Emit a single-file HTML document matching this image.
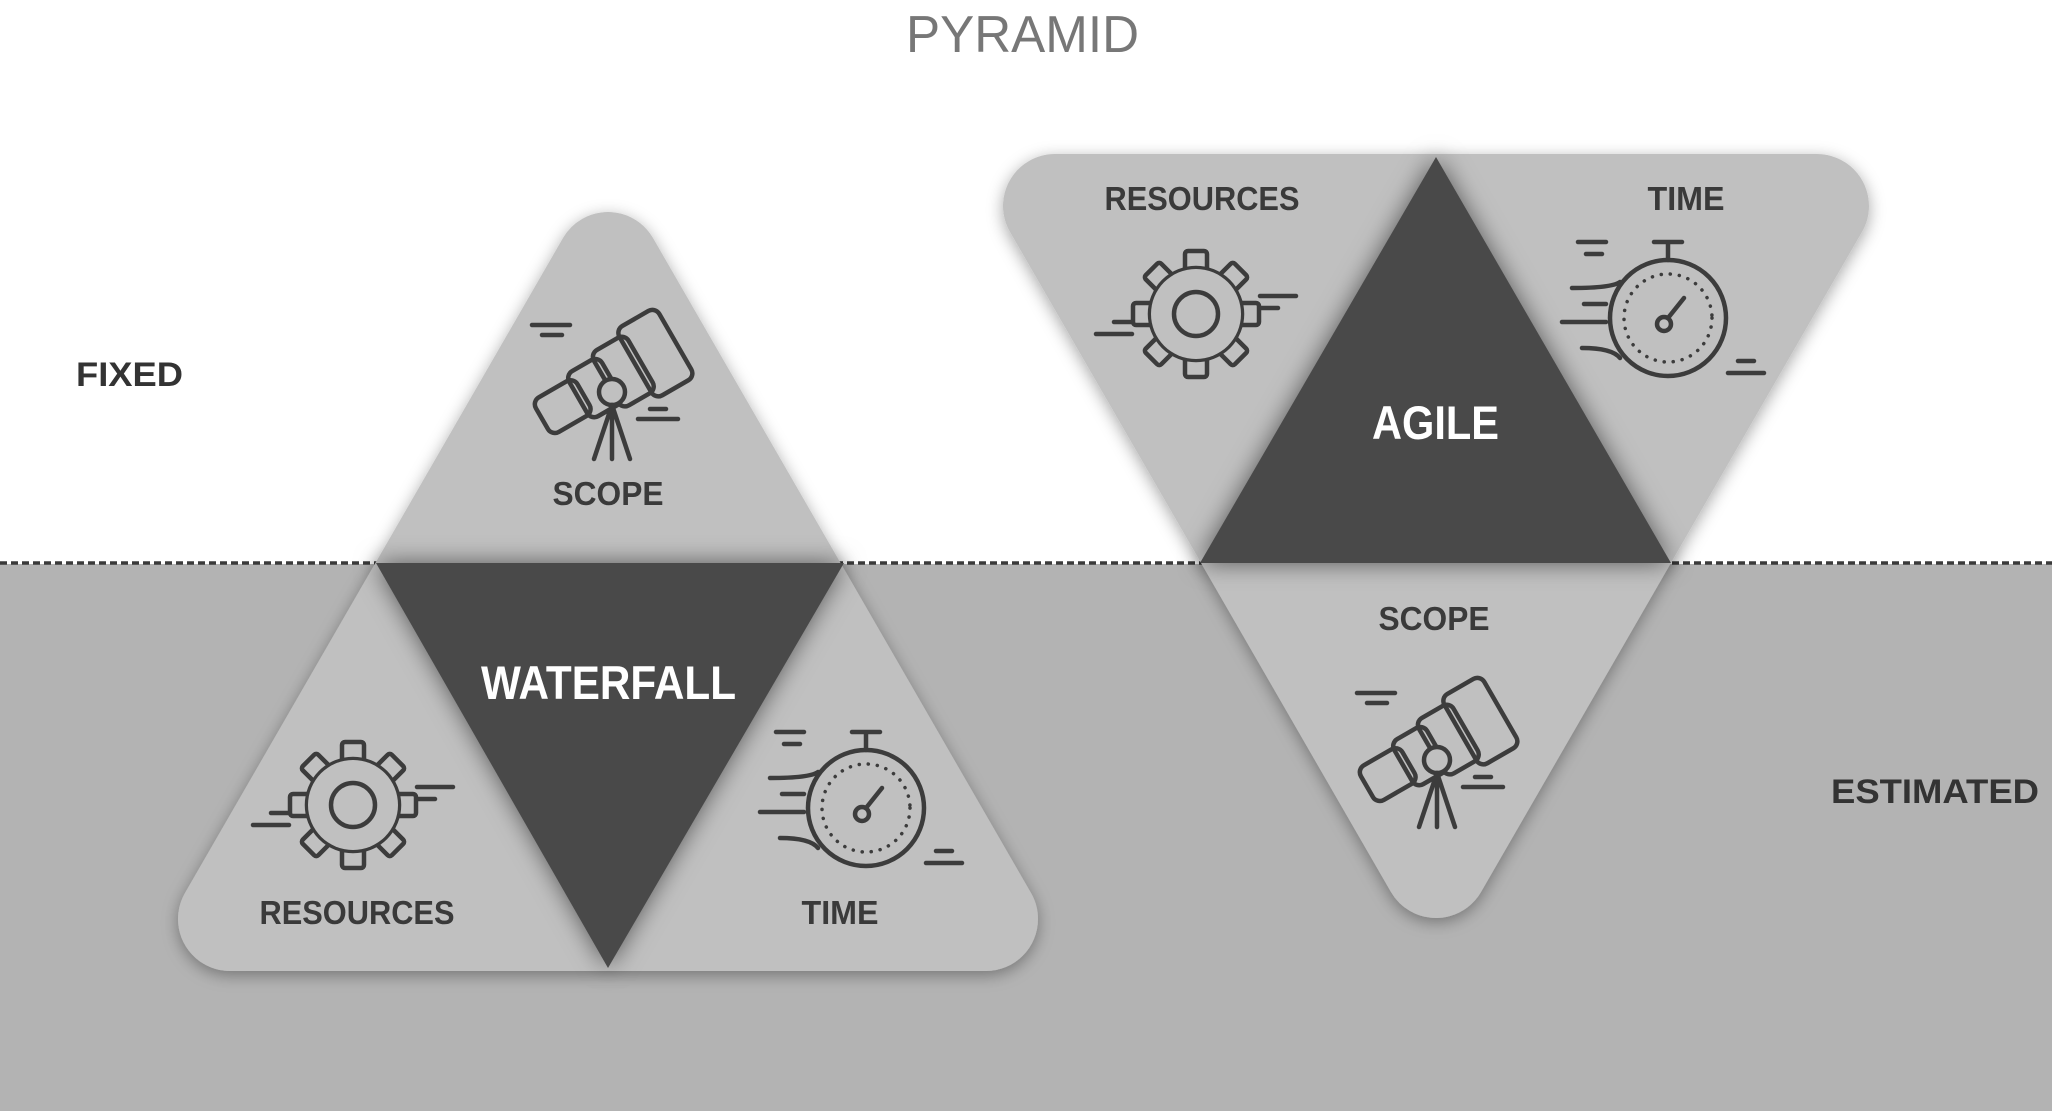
<!DOCTYPE html>
<html><head><meta charset="utf-8"><style>
html,body{margin:0;padding:0;background:#fff;}
svg{display:block;}
text{font-family:"Liberation Sans",sans-serif;}
.lbl{font-weight:bold;font-size:33px;fill:#3a3a3a;text-anchor:middle;}
.ic{fill:none;stroke:#3c3c3c;stroke-width:4.5;stroke-linecap:round;stroke-linejoin:round;}
</style></head><body>
<svg width="2052" height="1114" viewBox="0 0 2052 1114" xmlns="http://www.w3.org/2000/svg">
<defs>
<filter id="sh" x="-20%" y="-20%" width="140%" height="140%"><feDropShadow dx="0" dy="4" stdDeviation="8" flood-color="#000" flood-opacity="0.35"/></filter>
<filter id="sh2" x="-30%" y="-30%" width="160%" height="160%"><feDropShadow dx="0" dy="0" stdDeviation="12" flood-color="#000" flood-opacity="0.55"/></filter>
<g id="gear">
  <g fill="#c0c0c0" stroke="#3c3c3c" stroke-width="4.5" stroke-linejoin="round">
    <rect x="-11" y="-63" width="22" height="26" rx="3"/>
    <rect x="-11" y="-63" width="22" height="26" rx="3" transform="rotate(45)"/>
    <rect x="-11" y="-63" width="22" height="26" rx="3" transform="rotate(90)"/>
    <rect x="-11" y="-63" width="22" height="26" rx="3" transform="rotate(135)"/>
    <rect x="-11" y="-63" width="22" height="26" rx="3" transform="rotate(180)"/>
    <rect x="-11" y="-63" width="22" height="26" rx="3" transform="rotate(225)"/>
    <rect x="-11" y="-63" width="22" height="26" rx="3" transform="rotate(270)"/>
    <rect x="-11" y="-63" width="22" height="26" rx="3" transform="rotate(315)"/>
    <circle r="46"/>
  </g>
  <circle r="45" fill="#c0c0c0"/>
  <circle r="22" class="ic"/>
  <path class="ic" d="M64 -18 H100 M64 -6 H82 M-64 20 H-100 M-64 8 H-82"/>
</g>
<g id="watch">
  <circle r="58" class="ic"/>
  <circle r="44" fill="none" stroke="#3c3c3c" stroke-width="3.5" stroke-dasharray="0.1 9" stroke-linecap="round"/>
  <path class="ic" d="M0 -58 V-76 M-14 -76 H14"/>
  <circle cx="-4" cy="6" r="7" class="ic"/>
  <path class="ic" d="M0 0 L16 -20"/>
  <path class="ic" d="M-90 -76 H-62 M-82 -64 H-66 M-48 -36 Q-56 -30 -96 -30 M-84 -14 H-62 M-106 4 H-62 M-48 40 Q-56 30 -86 30 M60 55 H96 M70 43 H86"/>
</g>
<g id="scope">
  <g class="ic">
    <g transform="rotate(-30) translate(0,-12)">
      <rect x="-74" y="-20" width="48" height="40" rx="8"/>
      <rect x="-32" y="-26" width="38" height="52" rx="8"/>
      <rect x="0" y="-32" width="40" height="64" rx="8"/>
      <rect x="34" y="-40" width="46" height="80" rx="8"/>
    </g>
    <circle r="13" fill="#c0c0c0"/>
    <path d="M0 13 L-18 67 M0 13 V67 M0 13 L18 67 M-80 -67 H-42 M-70 -57 H-50 M26 27 H66 M38 17 H54"/>
  </g>
</g>
</defs>

<rect x="0" y="564" width="2052" height="547" fill="#b3b3b3"/>
<line x1="0" y1="563" x2="2052" y2="563" stroke="#3a3a3a" stroke-width="3.5" stroke-dasharray="7 4"/>

<text x="906" y="52" font-size="52" font-weight="100" fill="#777" textLength="233" lengthAdjust="spacingAndGlyphs">PYRAMID</text>
<text x="76" y="386" font-size="34" font-weight="bold" fill="#333" textLength="107" lengthAdjust="spacingAndGlyphs">FIXED</text>
<text x="1831" y="803" font-size="34" font-weight="bold" fill="#333" textLength="208" lengthAdjust="spacingAndGlyphs">ESTIMATED</text>

<!-- Waterfall -->
<polygon points="608,264 230,919 986,919" fill="#c0c0c0" stroke="#c0c0c0" stroke-width="104" stroke-linejoin="round" filter="url(#sh)"/>
<polygon points="376,563 844,563 608,968" fill="#494949" filter="url(#sh2)"/>
<text x="481" y="699" font-size="47" font-weight="bold" fill="#fff" textLength="255" lengthAdjust="spacingAndGlyphs">WATERFALL</text>
<text class="lbl" x="608" y="505" textLength="111" lengthAdjust="spacingAndGlyphs">SCOPE</text>
<text class="lbl" x="357" y="924" textLength="195" lengthAdjust="spacingAndGlyphs">RESOURCES</text>
<text class="lbl" x="840" y="924" textLength="77" lengthAdjust="spacingAndGlyphs">TIME</text>
<use href="#scope" x="612" y="392"/>
<use href="#gear" x="353" y="805"/>
<use href="#watch" x="866" y="808"/>

<!-- Agile -->
<polygon points="1055,206 1817,206 1436,866" fill="#c0c0c0" stroke="#c0c0c0" stroke-width="104" stroke-linejoin="round" filter="url(#sh)"/>
<polygon points="1200,563 1671,563 1436,157" fill="#494949" filter="url(#sh2)"/>
<text x="1372" y="439" font-size="47" font-weight="bold" fill="#fff" textLength="127" lengthAdjust="spacingAndGlyphs">AGILE</text>
<text class="lbl" x="1202" y="210" textLength="195" lengthAdjust="spacingAndGlyphs">RESOURCES</text>
<text class="lbl" x="1686" y="210" textLength="77" lengthAdjust="spacingAndGlyphs">TIME</text>
<text class="lbl" x="1434" y="630" textLength="111" lengthAdjust="spacingAndGlyphs">SCOPE</text>
<use href="#gear" x="1196" y="314"/>
<use href="#watch" x="1668" y="318"/>
<use href="#scope" x="1437" y="760"/>
</svg>
</body></html>
